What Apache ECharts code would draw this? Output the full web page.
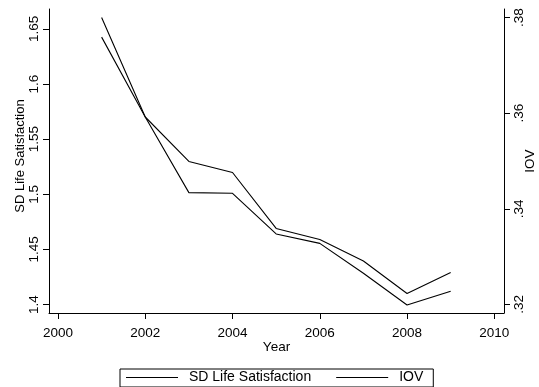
<!DOCTYPE html>
<html>
<head>
<meta charset="utf-8">
<script src="https://cdn.jsdelivr.net/npm/echarts@6/dist/echarts.min.js"></script>
<style>
html,body{margin:0;padding:0;background:#fff;}
#chart{width:539px;height:387px;}
</style>
</head>
<body>
<div id="chart"></div>
<script>
// ---- data ----
var years = [2001, 2002, 2003, 2004, 2005, 2006, 2007, 2008, 2009];
var sdLifeSatisfaction = [1.6604, 1.5701, 1.5015, 1.5009, 1.4640, 1.4555, 1.4283, 1.3995, 1.4120];
var iov = [0.3759, 0.3592, 0.3499, 0.3476, 0.3359, 0.3336, 0.3291, 0.3223, 0.3267];
var xTicks = [2000, 2002, 2004, 2006, 2008, 2010];
var leftTicks = [1.4, 1.45, 1.5, 1.55, 1.6, 1.65];
var leftTickLabels = ['1.4', '1.45', '1.5', '1.55', '1.6', '1.65'];
var rightTicks = [0.32, 0.34, 0.36, 0.38];
var rightTickLabels = ['.32', '.34', '.36', '.38'];
var seriesNames = ['SD Life Satisfaction', 'IOV'];

function labelFor(ticks, labels) {
  return function (v) {
    var best = 0, d = Infinity;
    for (var i = 0; i < ticks.length; i++) {
      var dd = Math.abs(ticks[i] - v);
      if (dd < d) { d = dd; best = i; }
    }
    return labels[best];
  };
}
function pairs(xs, ys) {
  return xs.map(function (x, i) { return [x, ys[i]]; });
}

var FONT = 'Liberation Sans, Arial, Helvetica, sans-serif';
var txt = { color: '#000', fontFamily: FONT, fontSize: 13.5 };

var chart = echarts.init(document.getElementById('chart'), null, { renderer: 'canvas' });
chart.setOption({
  backgroundColor: '#fff',
  animation: false,
  grid: { left: 49, right: 35, top: 9, bottom: 74, containLabel: false, outerBoundsMode: 'none' },
  legend: {
    data: seriesNames,
    left: 120, top: 369,
    orient: 'horizontal',
    icon: 'rect',
    borderColor: '#000', borderWidth: 1, borderRadius: 0,
    padding: [1, 10, 2, 6],
    itemGap: 25, itemWidth: 52, itemHeight: 1,
    itemStyle: { color: '#000', borderWidth: 0 },
    lineStyle: { width: 0 },
    textStyle: Object.assign({ padding: [0, 0, 0, 6], lineHeight: 15 }, txt, { fontSize: 14 }),
    selectedMode: false
  },
  xAxis: {
    type: 'value',
    min: 1999.794, max: 2010.222,
    name: 'Year', nameLocation: 'middle', nameGap: 27, nameMoveOverlap: false,
    nameTextStyle: txt,
    axisLine: { show: true, lineStyle: { color: '#000', width: 1 } },
    axisTick: { show: true, length: 6, lineStyle: { color: '#000' }, customValues: xTicks },
    axisLabel: Object.assign({ margin: 13, customValues: xTicks, formatter: function (v) { return String(Math.round(v)); } }, txt),
    splitLine: { show: false }
  },
  yAxis: [
    {
      type: 'value', position: 'left',
      min: 1.3923, max: 1.6681,
      name: 'SD Life Satisfaction', nameLocation: 'middle', nameGap: 22, nameMoveOverlap: false,
      nameTextStyle: Object.assign({ padding: [0, 0, 0, 10] }, txt, { fontSize: 13 }),
      axisLine: { show: true, lineStyle: { color: '#000', width: 1 } },
      axisTick: { show: true, length: 6, lineStyle: { color: '#000' }, customValues: leftTicks },
      axisLabel: Object.assign({ rotate: 90, margin: 8, customValues: leftTicks, formatter: labelFor(leftTicks, leftTickLabels) }, txt),
      splitLine: { show: false }
    },
    {
      type: 'value', position: 'right',
      min: 0.31822, max: 0.38178,
      name: 'IOV', nameLocation: 'middle', nameGap: 19, nameMoveOverlap: false,
      nameTextStyle: txt,
      axisLine: { show: true, lineStyle: { color: '#000', width: 1 } },
      axisTick: { show: true, length: 6, lineStyle: { color: '#000' }, customValues: rightTicks },
      axisLabel: Object.assign({ rotate: 90, margin: 8, customValues: rightTicks, formatter: labelFor(rightTicks, rightTickLabels) }, txt),
      splitLine: { show: false }
    }
  ],
  series: [
    {
      name: seriesNames[0], type: 'line', yAxisIndex: 0,
      data: pairs(years, sdLifeSatisfaction),
      symbol: 'none', showSymbol: false,
      lineStyle: { color: '#000', width: 1.1 },
      itemStyle: { color: '#000' }
    },
    {
      name: seriesNames[1], type: 'line', yAxisIndex: 1,
      data: pairs(years, iov),
      symbol: 'none', showSymbol: false,
      lineStyle: { color: '#000', width: 1.1 },
      itemStyle: { color: '#000' }
    }
  ]
});
</script>
</body>
</html>
